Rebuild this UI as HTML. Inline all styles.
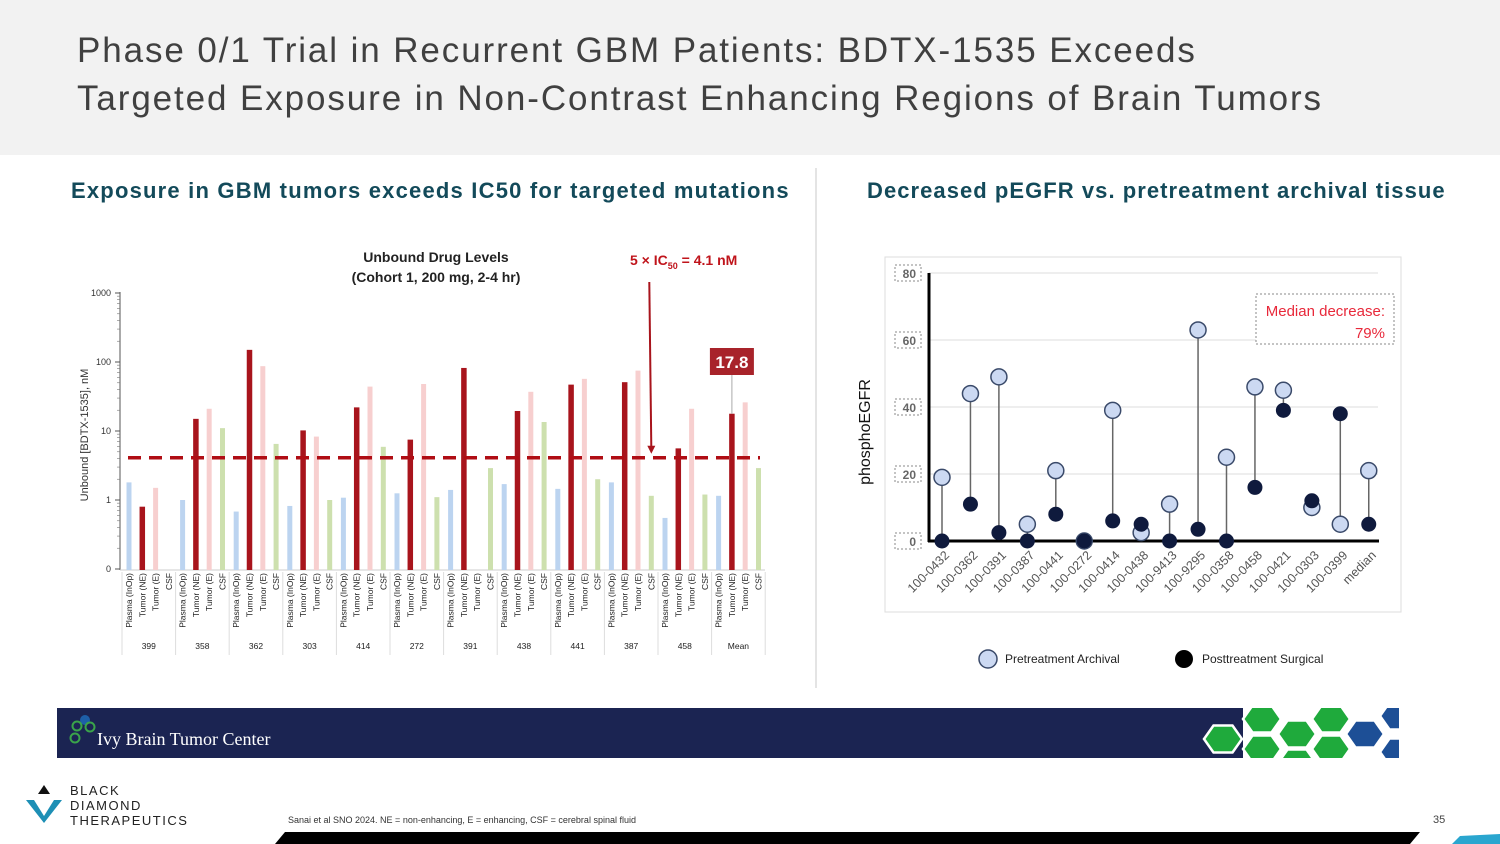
<!DOCTYPE html>
<html><head><meta charset="utf-8"><style>
body{margin:0;width:1500px;height:844px;overflow:hidden;background:#fff;font-family:"Liberation Sans",sans-serif;position:relative}
.abs{position:absolute}
</style></head><body>
<div class="abs" style="left:0;top:0;width:1500px;height:155px;background:#f2f2f2"></div>
<div class="abs" style="left:77px;top:27px;font-size:35px;line-height:48px;color:#404040;letter-spacing:1.9px;white-space:nowrap">Phase 0/1 Trial in Recurrent GBM Patients: BDTX-1535 Exceeds<br>Targeted Exposure in Non-Contrast Enhancing Regions of Brain Tumors</div>
<div class="abs" style="left:71px;top:178px;font-size:22px;font-weight:bold;color:#134a5a;white-space:nowrap;letter-spacing:1.2px">Exposure in GBM tumors exceeds IC50 for targeted mutations</div>
<div class="abs" style="left:867px;top:178px;font-size:22px;font-weight:bold;color:#134a5a;white-space:nowrap;letter-spacing:1.05px">Decreased pEGFR vs. pretreatment archival tissue</div>
<div class="abs" style="left:815px;top:168px;width:2px;height:520px;background:#e4e4e4"></div>

<svg class="abs" style="left:0;top:0" width="820" height="700" id="lc"></svg>
<svg class="abs" style="left:0;top:0" width="1500" height="700" id="rc"></svg>

<div class="abs" style="left:57px;top:708px;width:1342px;height:50px;background:#1b2452"></div>
<div class="abs" style="left:97px;top:729px;font-family:'Liberation Serif',serif;font-size:18px;color:#fff">Ivy Brain Tumor Center</div>
<svg class="abs" style="left:66px;top:713px" width="32" height="35"><circle cx="19" cy="7" r="5" fill="#1d5fa8"/><circle cx="11" cy="13" r="4.5" fill="none" stroke="#3aa44a" stroke-width="2"/><circle cx="24" cy="14" r="4.5" fill="none" stroke="#3aa44a" stroke-width="2"/><circle cx="9" cy="25" r="4.5" fill="none" stroke="#3aa44a" stroke-width="2"/></svg>
<svg class="abs" style="left:1200px;top:708px" width="199" height="50" id="hx">
<rect x="43" y="0" width="156" height="50" fill="#fff"/>
</svg>
<div class="abs" style="left:70px;top:783px;font-size:13px;line-height:15px;color:#222;letter-spacing:1.5px">BLACK<br>DIAMOND<br>THERAPEUTICS</div>
<svg class="abs" style="left:22px;top:783px" width="44" height="42"><polygon points="22,2 28,11 16,11" fill="#111"/><polygon points="4,17 12,17 22,33 32,17 40,17 22,40" fill="#1d8fb5"/></svg>
<div class="abs" style="left:288px;top:815px;font-size:9px;color:#333">Sanai et al SNO 2024.  NE = non-enhancing, E = enhancing, CSF = cerebral spinal fluid</div>
<div class="abs" style="left:1433px;top:814px;font-size:11px;color:#444">35</div>
<svg class="abs" style="left:0;top:830px" width="1500" height="14"><polygon points="285,2 1420,2 1410,14 275,14" fill="#000"/><polygon points="1460,6 1500,4 1500,14 1452,14" fill="#2aa6cf"/></svg>

<script>
const groups=['399','358','362','303','414','272','391','438','441','387','458','Mean'];
const subLabels=['Plasma (InOp)','Tumor (NE)','Tumor (E)','CSF'];
const plasma=[1.8,1.0,0.68,0.82,1.08,1.25,1.4,1.7,1.45,1.8,0.55,1.15];
const tumorNE=[0.8,15,150,10.2,22,7.5,82,19.5,47,51,5.6,17.8];
const tumorE=[1.5,21,87,8.3,44,48,null,37,57,75,21,26];
const csf=[null,11,6.5,1.0,5.9,1.1,2.9,13.5,2.0,1.15,1.2,2.9];
const yTicks=[1000,100,10,1,0.1];
const yTickLabels=['1000','100','10','1','0'];
const threshold=4.1;

const NS='http://www.w3.org/2000/svg';
function mk(p,t,a,txt){const e=document.createElementNS(NS,t);for(const k in a)e.setAttribute(k,a[k]);if(txt!=null)e.textContent=txt;p.appendChild(e);return e;}
let e;
// hexagons (decor)
const hx=document.getElementById('hx');
[[23,31,'#1faa3c'],[62,11,'#1faa3c'],[97,26,'#1faa3c'],[131,11,'#1faa3c'],[62,41,'#1faa3c'],[131,41,'#1faa3c'],[97,55,'#1faa3c'],[165,26,'#1d4f96'],[199,8,'#1d4f96'],[199,44,'#1d4f96']].forEach(h=>{
 const [cx,cy,c]=h,w=19,hh=13.5;
 mk(hx,'polygon',{points:`${cx-w},${cy} ${cx-w/2},${cy-hh} ${cx+w/2},${cy-hh} ${cx+w},${cy} ${cx+w/2},${cy+hh} ${cx-w/2},${cy+hh}`,fill:c,stroke:'#fff','stroke-width':2.5});
});
const lc=document.getElementById('lc');
const yL=v=>500-69*Math.log10(v);
const gx=i=>122+i*53.6;
const bx=(i,j)=>gx(i)+7+j*13.3;
e=mk(lc,'text',{x:436,y:262,'text-anchor':'middle','font-size':14,'font-weight':'bold',fill:'#222'},'Unbound Drug Levels');

e=mk(lc,'text',{x:436,y:282,'text-anchor':'middle','font-size':14,'font-weight':'bold',fill:'#222'},'(Cohort 1, 200 mg, 2-4 hr)');

e=mk(lc,'text',{x:630,y:265,'font-size':14,'font-weight':'bold',fill:'#c0141b'});

mk(e,'tspan',{},'5 × IC');
mk(e,'tspan',{'font-size':9,dy:4},'50');
mk(e,'tspan',{dy:-4},' = 4.1 nM');
e=mk(lc,'line',{x1:120,y1:292,x2:120,y2:570,stroke:'#555','stroke-width':1});

for(let d=0;d<4;d++){for(let m=2;m<10;m++){const y=yL(yTicks[d+1]*m);mk(lc,'line',{x1:117,y1:y,x2:120,y2:y,stroke:'#777','stroke-width':0.6});}}
yTicks.forEach((t,k)=>{const y=yL(t);mk(lc,'line',{x1:115,y1:y,x2:120,y2:y,stroke:'#555'});
 e=mk(lc,'text',{x:111,y:y+3,'text-anchor':'end','font-size':9,fill:'#333'},yTickLabels[k]);
 });
e=mk(lc,'text',{x:0,y:0,transform:'translate(88,435) rotate(-90)','text-anchor':'middle','font-size':11,fill:'#333'},'Unbound [BDTX-1535], nM');

mk(lc,'line',{x1:120,y1:570,x2:765,y2:570,stroke:'#ccc'});
const series=[plasma,tumorNE,tumorE,csf];
const colors=['#bcd4f0','#a8141c','#f7cfcf','#cde0ae'];
const names=['bar-plasma','bar-tumor-ne','bar-tumor-e','bar-csf'];
groups.forEach((g,i)=>{
 series.forEach((s,j)=>{const v=s[i];
  if(v!=null){const y=yL(v);
   const w=j==1?5.5:5;
   e=mk(lc,'rect',{x:bx(i,j)-w/2,y:y,width:w,height:570-y,fill:colors[j]});
   }
  e=mk(lc,'text',{x:0,y:0,transform:`translate(${bx(i,j)+3},573) rotate(-90)`,'text-anchor':'end','font-size':8.5,fill:'#222'},subLabels[j]);
  
 });
 mk(lc,'line',{x1:gx(i),y1:572,x2:gx(i),y2:655,stroke:'#ddd'});
 e=mk(lc,'text',{x:gx(i)+26.8,y:649,'text-anchor':'middle','font-size':8.5,fill:'#222'},g);
 
});
mk(lc,'line',{x1:gx(12),y1:572,x2:gx(12),y2:655,stroke:'#ddd'});
e=mk(lc,'line',{x1:128,y1:yL(threshold),x2:760,y2:yL(threshold),stroke:'#b00d14','stroke-width':3.5,'stroke-dasharray':'13,8'});

const ax=bx(9,3)+0;
mk(lc,'line',{x1:ax-2,y1:282,x2:ax,y2:yL(threshold)-10,stroke:'#a8141c','stroke-width':2});
e=mk(lc,'polygon',{points:`${ax-4},${yL(threshold)-12} ${ax+4},${yL(threshold)-12} ${ax},${yL(threshold)-4}`,fill:'#a8141c'});

const mx=bx(11,1);
mk(lc,'line',{x1:mx,y1:375,x2:mx,y2:yL(tumorNE[11]),stroke:'#aaa'});
e=mk(lc,'rect',{x:mx-22,y:348,width:44,height:27,fill:'#a8232a'});

mk(lc,'text',{x:mx,y:368,'text-anchor':'middle','font-size':17,'font-weight':'bold',fill:'#fff'},tumorNE[11].toFixed(1));

const patients=['100-0432','100-0362','100-0391','100-0387','100-0441','100-0272','100-0414','100-0438','100-9413','100-9295','100-0358','100-0458','100-0421','100-0303','100-0399','median'];
const pretreatment=[19,44,49,5,21,0,39,2.5,11,63,25,46,45,10,5,21];
const posttreatment=[0,11,2.5,0,8,0,6,5,0,3.5,0,16,39,12,38,5];
const rTicks=[0,20,40,60,80];
const rc=document.getElementById('rc');
const yR=v=>541-3.35*v;
const xR=i=>942+i*28.45;
e=mk(rc,'rect',{x:885,y:257,width:516,height:355,fill:'#fff',stroke:'#ddd'});

rTicks.forEach(t=>{const y=yR(t);if(t>0)mk(rc,'line',{x1:929,y1:y,x2:1378,y2:y,stroke:'#ddd'});
 mk(rc,'rect',{x:895,y:y-8,width:26,height:16,fill:'none',stroke:'#888','stroke-dasharray':'2,2'});
 e=mk(rc,'text',{x:916,y:y+5,'text-anchor':'end','font-size':12,'font-weight':'bold',fill:'#666'},String(t));
 });
mk(rc,'line',{x1:929,y1:yR(80),x2:929,y2:yR(0)+1,stroke:'#000','stroke-width':3});
e=mk(rc,'line',{x1:928,y1:yR(0),x2:1379,y2:yR(0),stroke:'#000','stroke-width':3});

e=mk(rc,'text',{x:0,y:0,transform:'translate(870,432) rotate(-90)','text-anchor':'middle','font-size':16,fill:'#111'},'phosphoEGFR');

patients.forEach((p,i)=>{const x=xR(i);
 mk(rc,'line',{x1:x,y1:yR(pretreatment[i]),x2:x,y2:yR(posttreatment[i]),stroke:'#666','stroke-width':1.5});
 e=mk(rc,'circle',{cx:x,cy:yR(pretreatment[i]),r:8,fill:'#ccd9f2',stroke:'#3a4a6a','stroke-width':1.5});
 
 e=mk(rc,'circle',{cx:x,cy:yR(posttreatment[i]),r:7.5,fill:'#0f1a3d'});
 
 e=mk(rc,'text',{x:0,y:0,transform:`translate(${x+8},556) rotate(-45)`,'text-anchor':'end','font-size':12.5,fill:'#555'},p);
 
});
e=mk(rc,'rect',{x:1256,y:294,width:138,height:50,fill:'#fff',stroke:'#888','stroke-dasharray':'2,2'});

mk(rc,'text',{x:1385,y:316,'text-anchor':'end','font-size':15,fill:'#e8283a'},'Median decrease:');
mk(rc,'text',{x:1385,y:338,'text-anchor':'end','font-size':15,fill:'#e8283a'},'79%');
e=mk(rc,'circle',{cx:988,cy:659,r:9,fill:'#ccd9f2',stroke:'#3a4a6a','stroke-width':1.5});

mk(rc,'text',{x:1005,y:663,'font-size':12,fill:'#222'},'Pretreatment Archival');
e=mk(rc,'circle',{cx:1184,cy:659,r:9,fill:'#000'});

mk(rc,'text',{x:1202,y:663,'font-size':12,fill:'#222'},'Posttreatment Surgical');
</script>
</body></html>
